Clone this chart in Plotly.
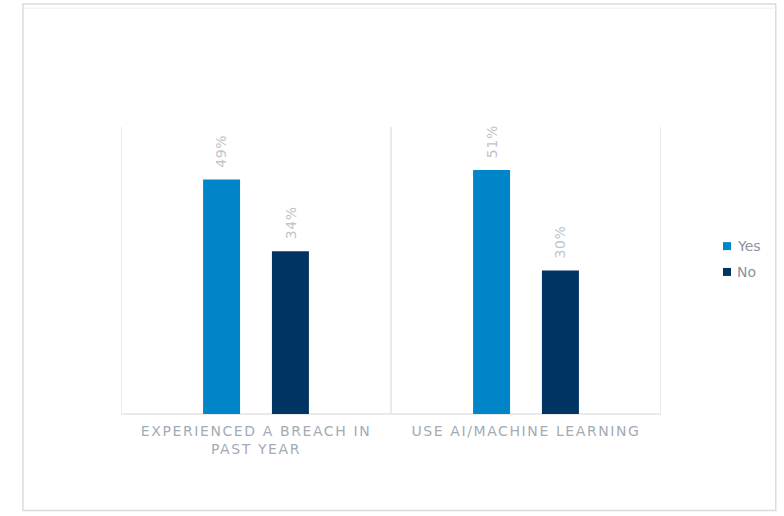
import plotly.graph_objects as go

# Survey results
categories = ["EXPERIENCED A BREACH IN", "PAST YEAR"], ["USE AI/MACHINE LEARNING"]
yes_values = [49, 51]
no_values = [34, 30]
series_names = ["Yes", "No"]
colors = ["#0085C8", "#003462"]

x_pos = list(range(len(categories)))
bar_width = 0.137
offsets = [-0.196, 0.059]

def spaced(lines, px=1.6):
    return "<br>".join(f'<span style="letter-spacing:{px}px">{ln}</span>' for ln in lines)

fig = go.Figure()

for name, vals, col, off in zip(series_names, [yes_values, no_values], colors, offsets):
    fig.add_trace(go.Bar(
        x=x_pos, y=vals, width=bar_width, offset=off, name=name,
        marker=dict(color=col, line=dict(width=0)),
        showlegend=False,
    ))
    # rotated value labels above each bar
    for xi, v in zip(x_pos, vals):
        fig.add_annotation(
            x=xi + off + bar_width / 2, y=v, xref="x", yref="y",
            text=f'<span style="letter-spacing:0.6px">{v}%</span>', textangle=-90, showarrow=False,
            xanchor="center", yanchor="bottom", yshift=10,
            font=dict(family="DejaVu Sans", size=14, color="#BFC5CA"),
        )

# legend: small squares with labels
legend_y = [0.585, 0.495]
for name, col, ly in zip(series_names, colors, legend_y):
    fig.add_shape(type="rect", xref="paper", yref="paper",
                  x0=(723 - 121) / 540, x1=(731 - 121) / 540,
                  y0=ly - 4 / 287, y1=ly + 4 / 287,
                  fillcolor=col, line=dict(width=0))
    fig.add_annotation(x=(735 - 121) / 540, y=ly, xref="paper", yref="paper",
                       text=name, showarrow=False, xanchor="left", yanchor="middle",
                       font=dict(family="DejaVu Sans", size=14, color="#8A939C"))

# chart frame: baseline and category dividers
line_col = "#E3E3E3"
for xv in [-0.5, 0.5, 1.5]:
    fig.add_shape(type="line", xref="x", yref="paper", x0=xv, x1=xv, y0=0, y1=1,
                  line=dict(color=line_col, width=1.5), layer="below")
fig.add_shape(type="line", xref="paper", yref="paper", x0=0, x1=1, y0=0, y1=0,
              line=dict(color=line_col, width=1.5), layer="below")

# outer border of the chart area
fig.add_shape(type="rect", xref="paper", yref="paper",
              x0=-0.1815, x1=1.2125, y0=1.4286, y1=-0.3362,
              line=dict(color="#DCDCDC", width=1.5), layer="below")
fig.add_shape(type="line", xref="paper", yref="paper",
              x0=-0.1815, x1=1.2125, y0=1.414, y1=1.414,
              line=dict(color="#EFEFEF", width=1), layer="below")

fig.update_layout(
    width=784, height=516,
    margin=dict(l=121, r=123, t=127, b=102),
    plot_bgcolor="white", paper_bgcolor="white",
    barmode="overlay", showlegend=False,
    xaxis=dict(range=[-0.5, 1.5], tickvals=x_pos,
               ticktext=[spaced(c) for c in categories],
               showgrid=False, zeroline=False, showline=False, ticks="",
               ticklabelstandoff=7,
               tickfont=dict(family="DejaVu Sans", size=14, color="#A3ABB3"),
               fixedrange=True),
    yaxis=dict(range=[0, 60], visible=False, fixedrange=True),
    font=dict(family="DejaVu Sans"),
)

fig.write_html("out.html")
